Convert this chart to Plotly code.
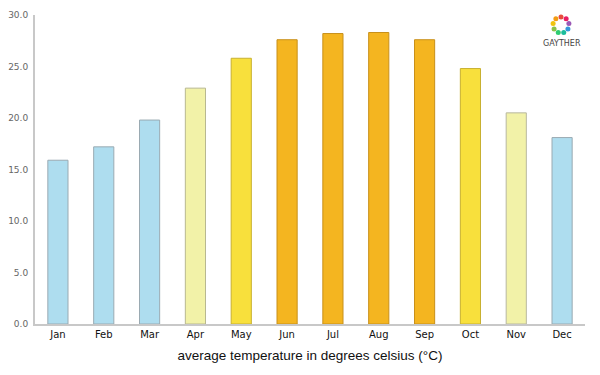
import plotly.graph_objects as go
import math

months = ["Jan", "Feb", "Mar", "Apr", "May", "Jun", "Jul", "Aug", "Sep", "Oct", "Nov", "Dec"]
temps = [15.9, 17.2, 19.8, 22.9, 25.8, 27.6, 28.2, 28.3, 27.6, 24.8, 20.5, 18.1]
fill_colors = ["#AEDDEF", "#AEDDEF", "#AEDDEF", "#F2F2A8", "#F8E03C", "#F4B520",
               "#F4B520", "#F4B520", "#F4B520", "#F8E03C", "#F2F2A8", "#AEDDEF"]
line_colors = ["#9AAAB2", "#9AAAB2", "#9AAAB2", "#B8B890", "#C8B030", "#C8901A",
               "#C8901A", "#C8901A", "#C8901A", "#C8B030", "#B8B8A0", "#9AAAB2"]
y_ticks = [0, 5, 10, 15, 20, 25, 30]
title_text = "average temperature in degrees celsius (°C)"

# page body has an 8px default margin; plot area in screen px: x 35..585, y 15..324
PL, PR, PT, PB = 35, 585, 15, 324
OFF = 8

fig = go.Figure()
fig.add_trace(go.Bar(
    x=months, y=temps,
    marker=dict(color=fill_colors, line=dict(color=line_colors, width=1)),
    width=0.44,
    hoverinfo="x+y",
))

fig.update_layout(
    width=600, height=375,
    margin=dict(l=PL - OFF, r=600 - (PR - OFF), t=PT - OFF, b=375 - (PB - OFF), autoexpand=False),
    paper_bgcolor="white", plot_bgcolor="white",
    showlegend=False,
    font=dict(family="DejaVu Sans", color="#444"),
    xaxis=dict(
        automargin=False,
        showline=True, linecolor="#C8C8C8", linewidth=2,
        showgrid=False, ticks="", tickfont=dict(size=10, color="#111", family="DejaVu Sans"),
        title=dict(text=title_text, font=dict(size=13.5, color="#111", family="Liberation Sans"), standoff=12),
        range=[-0.5, 11.5],
    ),
    yaxis=dict(
        automargin=False,
        range=[0, 30], tickvals=y_ticks, tickformat=".1f",
        showline=True, linecolor="#C8C8C8", linewidth=2,
        showgrid=False, zeroline=False, ticks="", ticklabelstandoff=3,
        tickfont=dict(size=9, color="#666", family="DejaVu Sans"),
    ),
)

W, H = PR - PL, PB - PT
def px_x(sx):
    return (sx - PL) / W
def px_y(sy):
    return (PB - sy) / H

# logo: GAYTHER text and ring of coloured dots
fig.add_annotation(xref="paper", yref="paper", x=px_x(562), y=px_y(43), text="GAYTHER",
                   xanchor="center", yanchor="middle",
                   showarrow=False, font=dict(size=8, color="#444", family="DejaVu Sans"))
ring_colors = ["#E84C3D", "#F39C12", "#F1C40F", "#8BC34A", "#2ECC71", "#1ABC9C",
               "#3498DB", "#9B59B6", "#E91E63"]
cx, cy = 561, 25
for i, c in enumerate(ring_colors):
    a = 2 * math.pi * i / len(ring_colors) + math.pi / 2
    sx = cx + 8 * math.cos(a)
    sy = cy - 8 * math.sin(a)
    fig.add_shape(type="circle", xref="paper", yref="paper",
                  x0=px_x(sx - 2.5), x1=px_x(sx + 2.5),
                  y0=px_y(sy + 2.5), y1=px_y(sy - 2.5),
                  fillcolor=c, line=dict(width=0))

fig.write_html("out.html")
